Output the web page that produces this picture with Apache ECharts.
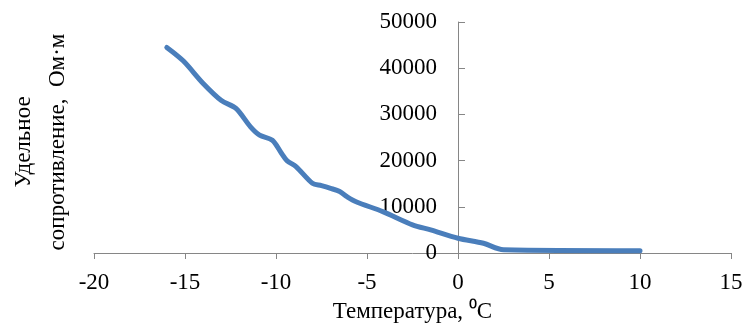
<!DOCTYPE html>
<html>
<head>
<meta charset="utf-8">
<script src="https://cdn.jsdelivr.net/npm/echarts@6/dist/echarts.min.js"></script>
<style>
  html, body { margin: 0; padding: 0; background: #fff; }
  #chart { width: 743px; height: 326px; }
</style>
</head>
<body>
<div id="chart"></div>
<script>
// температура, °C
var temps = [-16, -15.1, -14, -13, -12.2, -11.4, -10.9, -10.2, -9.7, -9.4, -8.9, -8, -7.5, -7, -6.5, -6.1, -5.6, -4.1, -2.5, -1.5, 0, 1.4, 2.5, 10];
// удельное сопротивление, Ом·м
var resist = [44500, 41600, 36700, 33000, 31300, 27300, 25500, 24400, 21600, 20000, 18700, 15100, 14600, 14000, 13300, 12200, 11100, 8900, 6100, 5000, 3200, 2100, 700, 500];

var points = [];
for (var i = 0; i < temps.length; i++) {
    points.push([temps[i], resist[i]]);
}

var font = 'Liberation Serif';
var fontSize = 23;
var axisColor = '#868686';
var xMin = -20, xMax = 15;
var gridLeft = 94, gridRight = 12;
// ось Y проходит через x = 0
var plotWidth = 743 - gridLeft - gridRight;
var yAxisShift = plotWidth * (0 - xMin) / (xMax - xMin);

var myChart = echarts.init(document.getElementById('chart'));
var option = {
    animation: false,
    grid: {
        left: gridLeft,
        right: gridRight,
        top: 22,
        bottom: 73,
        outerBoundsMode: 'none'
    },
    xAxis: {
        type: 'value',
        min: xMin,
        max: xMax,
        interval: 5,
        splitLine: { show: false },
        axisLine: { onZero: false, lineStyle: { color: axisColor } },
        axisTick: { length: 6, lineStyle: { color: axisColor } },
        axisLabel: { color: '#000', fontFamily: font, fontSize: fontSize, margin: 18 },
        name: 'Температура, ⁰C',
        nameLocation: 'middle',
        nameGap: 47,
        nameTextStyle: { color: '#000', fontFamily: font, fontSize: fontSize }
    },
    yAxis: {
        type: 'value',
        min: 0,
        max: 50000,
        interval: 10000,
        offset: -yAxisShift,
        splitLine: { show: false },
        axisLine: { show: true, onZero: false, lineStyle: { color: axisColor } },
        axisTick: { show: true, inside: true, length: 7, lineStyle: { color: axisColor } },
        axisLabel: {
            color: '#000', fontFamily: font, fontSize: fontSize, margin: 21,
            formatter: function (v) { return String(v); }
        }
    },
    graphic: [
        {
            type: 'text',
            x: 41,
            y: 142,
            rotation: Math.PI / 2,
            style: {
                text: 'Удельное\nсопротивление,  Ом·м',
                fontFamily: font,
                fontSize: fontSize,
                lineHeight: 34,
                fill: '#000',
                align: 'center',
                verticalAlign: 'middle'
            }
        }
    ],
    series: [
        {
            type: 'line',
            data: points,
            smooth: 0.3,
            showSymbol: false,
            lineStyle: { color: '#4a7ebb', width: 5, cap: 'round' }
        }
    ]
};
myChart.setOption(option);
</script>
</body>
</html>
